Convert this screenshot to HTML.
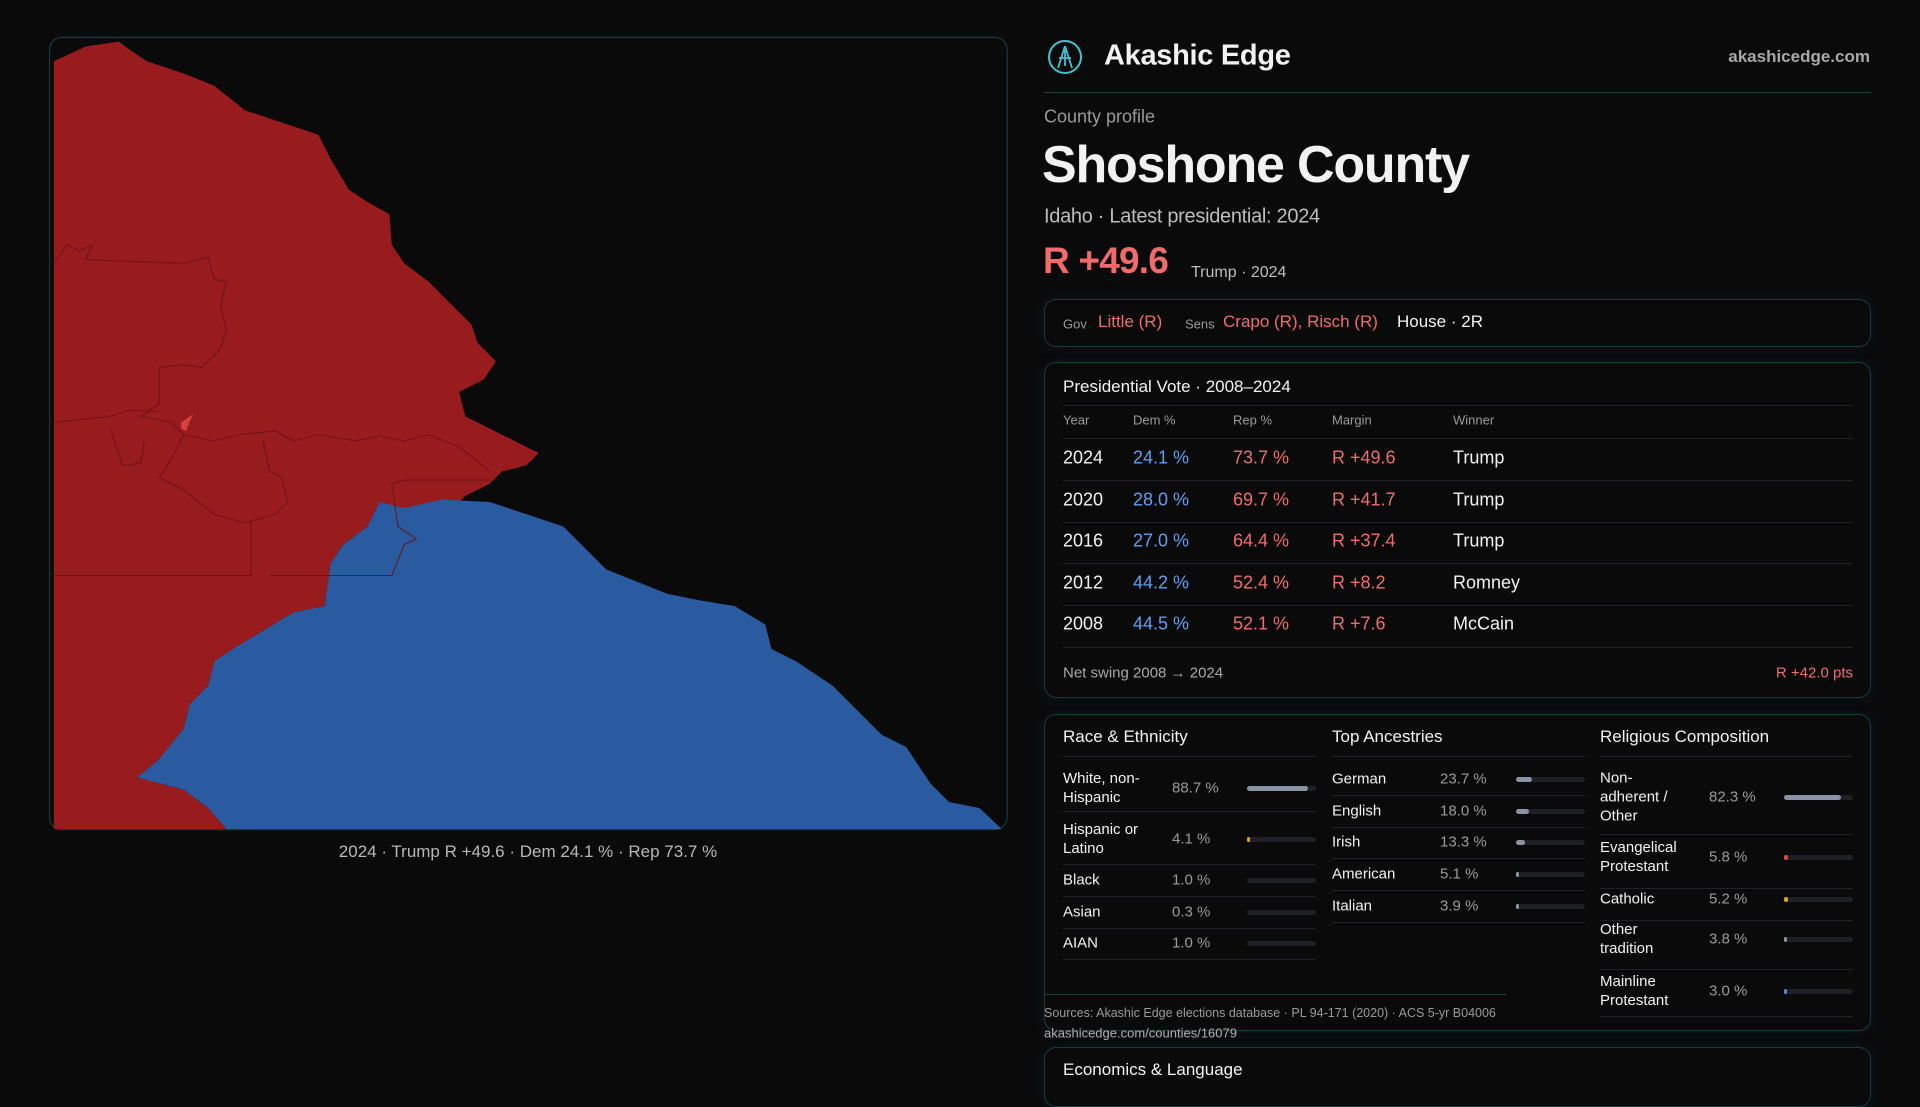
<!DOCTYPE html>
<html><head><meta charset="utf-8"><style>
*{margin:0;padding:0;box-sizing:border-box}
body{width:1920px;height:1080px;background:#0a0a0b;overflow:hidden;position:relative;font-family:"Liberation Sans",sans-serif;color:#f2f2f2}
.a{position:absolute;white-space:nowrap}
.box{position:absolute;border:1px solid #173a3f;border-radius:12px;box-shadow:0 0 14px rgba(30,90,100,0.18)}
.g{color:#9a9a9a}.r{color:#f26b6b}.b{color:#5aa0f5}
.sep{position:absolute;height:1px;background:#1f2226}
.bar{position:absolute;height:5px;border-radius:3px;background:#1e2025}
.bar i{position:absolute;left:0;top:0;height:5px;border-radius:3px;background:#8a93a5}
.t{font-size:18px;transform:translateY(-50%)}
.s{font-size:15px;transform:translateY(-50%);line-height:19px}
</style></head><body>
<svg class="a" style="left:0;top:0" width="1920" height="1080" viewBox="0 0 1568 882">
<rect x="40.5" y="30.5" width="782" height="647" rx="10" fill="#0a0a0b" stroke="#173a3f"/>
<path fill="#981b1e" d="M44,50 L70,38 L97,34 L105,40 L120,50 L150,60 L175,70 L200,90 L230,100 L260,110 L270,130 L285,155 L300,165 L318,175 L320,200 L330,215 L350,230 L365,245 L385,265 L390,280 L405,295 L395,310 L375,320 L380,340 L410,355 L430,365 L440,370 L430,380 L410,385 L400,395 L380,405 L370,415 L345,420 L310,410 L300,430 L280,445 L270,460 L265,495 L240,500 L215,515 L190,530 L175,540 L170,560 L155,575 L150,595 L130,620 L112,635 L150,645 L170,660 L185,677 L44,677 Z"/>
<path fill="#2a5a9f" d="M310,410 L330,415 L360,408 L400,410 L430,420 L460,430 L480,450 L495,465 L520,475 L545,485 L570,490 L600,495 L625,510 L630,530 L650,540 L680,560 L700,580 L720,600 L740,610 L760,640 L775,655 L800,660 L818,677 L185,677 L170,660 L150,645 L112,635 L130,620 L150,595 L155,575 L170,560 L175,540 L190,530 L215,515 L240,500 L265,495 L270,460 L280,445 L300,430 Z"/>
<g fill="none" stroke="#6e1316" stroke-width="0.8">
<path d="M44,215 L55,200 L65,205 L75,200 L70,212 L90,213 L150,215 L170,210 L175,228 L185,230 L180,250 L185,270 L180,285 L165,300 L150,298 L130,300 L130,330 L115,340 L140,345 L150,355 L175,360 L195,355 L225,352 L240,360 L260,355 L290,360 L310,356 L330,360 L350,355 L375,365 L400,385"/>
<path d="M44,345 L90,340 L105,335 L130,336"/>
<path d="M150,355 L140,375 L130,390 L150,400 L175,420 L200,427 L225,420 L235,410 L230,390 L220,385 L215,360"/>
<path d="M205,425 L205,470 L44,470"/>
<path d="M220,470 L320,470 L330,445 L340,440 L325,430 L320,395 L330,392 L400,392"/>
<path d="M90,350 L95,365 L100,380 L115,378 L118,360"/>
</g>
<path fill="#d94040" d="M148,345 L158,338 L155,344 L152,352 L148,350 Z"/>
</svg>
<div class="a g" style="left:528px;top:852px;transform:translate(-50%,-50%);font-size:17px;color:#b8b8b8">2024 · Trump R +49.6 · Dem 24.1 % · Rep 73.7 %</div>

<svg class="a" style="left:1046px;top:38px" width="38" height="38" viewBox="0 0 38 38"><circle cx="19" cy="19" r="16" fill="none" stroke="#3fc3d3" stroke-width="2"/><path d="M19,8 L12,30 M19,8 L26,30 M13,20 L25,20 M19,12 L19,28" stroke="#3fc3d3" stroke-width="1.8" fill="none"/></svg>
<div class="a" style="left:1104px;top:56px;transform:translateY(-50%);font-size:29px;font-weight:bold;letter-spacing:-0.3px">Akashic Edge</div>
<div class="a" style="right:50px;top:57px;transform:translateY(-50%);font-size:17px;font-weight:bold;color:#a8a8a8">akashicedge.com</div>
<div class="a" style="left:1044px;top:92px;width:827px;height:1px;background:#1e3e42"></div>
<div class="a g" style="left:1044px;top:117px;transform:translateY(-50%);font-size:18px">County profile</div>
<div class="a" style="left:1042px;top:165px;transform:translateY(-50%);font-size:52px;font-weight:bold;letter-spacing:-1.2px">Shoshone County</div>
<div class="a" style="left:1044px;top:217px;transform:translateY(-50%);font-size:20px;color:#bdbdbd;letter-spacing:-0.3px">Idaho · Latest presidential: 2024</div>
<div class="a r" style="left:1043px;top:261px;transform:translateY(-50%);font-size:37px;font-weight:bold;letter-spacing:-0.8px">R +49.6</div>
<div class="a" style="left:1191px;top:273px;transform:translateY(-50%);font-size:16px;color:#bdbdbd">Trump · 2024</div>

<div class="box" style="left:1044px;top:299px;width:827px;height:48px"></div>
<div class="a g" style="left:1063px;top:324px;transform:translateY(-50%);font-size:13px">Gov</div>
<div class="a r" style="left:1098px;top:322px;transform:translateY(-50%);font-size:17px">Little (R)</div>
<div class="a g" style="left:1185px;top:324px;transform:translateY(-50%);font-size:13px">Sens</div>
<div class="a r" style="left:1223px;top:322px;transform:translateY(-50%);font-size:17px">Crapo (R), Risch (R)</div>
<div class="a" style="left:1397px;top:322px;transform:translateY(-50%);font-size:17px">House · 2R</div>

<div class="box" style="left:1044px;top:362px;width:827px;height:336px"></div>
<div class="a" style="left:1063px;top:387px;transform:translateY(-50%);font-size:17px">Presidential Vote · 2008–2024</div>
<div class="sep" style="left:1063px;top:405px;width:790px"></div>
<div class="a g" style="left:1063px;top:420px;transform:translateY(-50%);font-size:13px">Year</div>
<div class="a g" style="left:1133px;top:420px;transform:translateY(-50%);font-size:13px">Dem %</div>
<div class="a g" style="left:1233px;top:420px;transform:translateY(-50%);font-size:13px">Rep %</div>
<div class="a g" style="left:1332px;top:420px;transform:translateY(-50%);font-size:13px">Margin</div>
<div class="a g" style="left:1453px;top:420px;transform:translateY(-50%);font-size:13px">Winner</div>
<div class="sep" style="left:1063px;top:438px;width:790px"></div>
<div class="a t" style="left:1063px;top:458px">2024</div><div class="a t b" style="left:1133px;top:458px">24.1 %</div><div class="a t r" style="left:1233px;top:458px">73.7 %</div><div class="a t r" style="left:1332px;top:458px">R +49.6</div><div class="a t" style="left:1453px;top:458px">Trump</div>
<div class="sep" style="left:1063px;top:480px;width:790px"></div>
<div class="a t" style="left:1063px;top:500px">2020</div><div class="a t b" style="left:1133px;top:500px">28.0 %</div><div class="a t r" style="left:1233px;top:500px">69.7 %</div><div class="a t r" style="left:1332px;top:500px">R +41.7</div><div class="a t" style="left:1453px;top:500px">Trump</div>
<div class="sep" style="left:1063px;top:522px;width:790px"></div>
<div class="a t" style="left:1063px;top:541px">2016</div><div class="a t b" style="left:1133px;top:541px">27.0 %</div><div class="a t r" style="left:1233px;top:541px">64.4 %</div><div class="a t r" style="left:1332px;top:541px">R +37.4</div><div class="a t" style="left:1453px;top:541px">Trump</div>
<div class="sep" style="left:1063px;top:563px;width:790px"></div>
<div class="a t" style="left:1063px;top:583px">2012</div><div class="a t b" style="left:1133px;top:583px">44.2 %</div><div class="a t r" style="left:1233px;top:583px">52.4 %</div><div class="a t r" style="left:1332px;top:583px">R +8.2</div><div class="a t" style="left:1453px;top:583px">Romney</div>
<div class="sep" style="left:1063px;top:605px;width:790px"></div>
<div class="a t" style="left:1063px;top:624px">2008</div><div class="a t b" style="left:1133px;top:624px">44.5 %</div><div class="a t r" style="left:1233px;top:624px">52.1 %</div><div class="a t r" style="left:1332px;top:624px">R +7.6</div><div class="a t" style="left:1453px;top:624px">McCain</div>
<div class="sep" style="left:1063px;top:647px;width:790px"></div>
<div class="a" style="left:1063px;top:673px;transform:translateY(-50%);font-size:15px;color:#a8a8a8">Net swing 2008 → 2024</div>
<div class="a r" style="right:67px;top:673px;transform:translateY(-50%);font-size:15px">R +42.0 pts</div>

<div class="box" style="left:1044px;top:714px;width:827px;height:317px"></div>
<div class="a" style="left:1063px;top:737px;transform:translateY(-50%);font-size:17px">Race &amp; Ethnicity</div>
<div class="a" style="left:1332px;top:737px;transform:translateY(-50%);font-size:17px">Top Ancestries</div>
<div class="a" style="left:1600px;top:737px;transform:translateY(-50%);font-size:17px">Religious Composition</div>
<div class="sep" style="left:1063px;top:756px;width:253px"></div>
<div class="sep" style="left:1332px;top:756px;width:253px"></div>
<div class="sep" style="left:1600px;top:756px;width:253px"></div>

<div class="a s" style="left:1063px;top:788px">White, non-<br>Hispanic</div><div class="a s g" style="left:1172px;top:788px">88.7 %</div><div class="bar" style="left:1247px;top:786px;width:69px"><i style="width:61px"></i></div>
<div class="sep" style="left:1063px;top:811px;width:253px"></div>
<div class="a s" style="left:1063px;top:839px">Hispanic or<br>Latino</div><div class="a s g" style="left:1172px;top:839px">4.1 %</div><div class="bar" style="left:1247px;top:837px;width:69px"><i style="width:3px;background:#e0a020"></i></div>
<div class="sep" style="left:1063px;top:864px;width:253px"></div>
<div class="a s" style="left:1063px;top:880px">Black</div><div class="a s g" style="left:1172px;top:880px">1.0 %</div><div class="bar" style="left:1247px;top:878px;width:69px"></div>
<div class="sep" style="left:1063px;top:896px;width:253px"></div>
<div class="a s" style="left:1063px;top:912px">Asian</div><div class="a s g" style="left:1172px;top:912px">0.3 %</div><div class="bar" style="left:1247px;top:910px;width:69px"></div>
<div class="sep" style="left:1063px;top:928px;width:253px"></div>
<div class="a s" style="left:1063px;top:943px">AIAN</div><div class="a s g" style="left:1172px;top:943px">1.0 %</div><div class="bar" style="left:1247px;top:941px;width:69px"></div>
<div class="sep" style="left:1063px;top:959px;width:253px"></div>

<div class="a s" style="left:1332px;top:779px">German</div><div class="a s g" style="left:1440px;top:779px">23.7 %</div><div class="bar" style="left:1516px;top:777px;width:69px"><i style="width:16px"></i></div>
<div class="sep" style="left:1332px;top:795px;width:253px"></div>
<div class="a s" style="left:1332px;top:811px">English</div><div class="a s g" style="left:1440px;top:811px">18.0 %</div><div class="bar" style="left:1516px;top:809px;width:69px"><i style="width:13px"></i></div>
<div class="sep" style="left:1332px;top:827px;width:253px"></div>
<div class="a s" style="left:1332px;top:842px">Irish</div><div class="a s g" style="left:1440px;top:842px">13.3 %</div><div class="bar" style="left:1516px;top:840px;width:69px"><i style="width:9px"></i></div>
<div class="sep" style="left:1332px;top:858px;width:253px"></div>
<div class="a s" style="left:1332px;top:874px">American</div><div class="a s g" style="left:1440px;top:874px">5.1 %</div><div class="bar" style="left:1516px;top:872px;width:69px"><i style="width:3px"></i></div>
<div class="sep" style="left:1332px;top:890px;width:253px"></div>
<div class="a s" style="left:1332px;top:906px">Italian</div><div class="a s g" style="left:1440px;top:906px">3.9 %</div><div class="bar" style="left:1516px;top:904px;width:69px"><i style="width:3px"></i></div>
<div class="sep" style="left:1332px;top:922px;width:253px"></div>

<div class="a s" style="left:1600px;top:797px">Non-<br>adherent /<br>Other</div><div class="a s g" style="left:1709px;top:797px">82.3 %</div><div class="bar" style="left:1784px;top:795px;width:69px"><i style="width:57px"></i></div>
<div class="sep" style="left:1600px;top:834px;width:253px"></div>
<div class="a s" style="left:1600px;top:857px">Evangelical<br>Protestant</div><div class="a s g" style="left:1709px;top:857px">5.8 %</div><div class="bar" style="left:1784px;top:855px;width:69px"><i style="width:4px;background:#e04848"></i></div>
<div class="sep" style="left:1600px;top:888px;width:253px"></div>
<div class="a s" style="left:1600px;top:899px">Catholic</div><div class="a s g" style="left:1709px;top:899px">5.2 %</div><div class="bar" style="left:1784px;top:897px;width:69px"><i style="width:4px;background:#e0a020"></i></div>
<div class="sep" style="left:1600px;top:920px;width:253px"></div>
<div class="a s" style="left:1600px;top:939px">Other<br>tradition</div><div class="a s g" style="left:1709px;top:939px">3.8 %</div><div class="bar" style="left:1784px;top:937px;width:69px"><i style="width:3px"></i></div>
<div class="sep" style="left:1600px;top:969px;width:253px"></div>
<div class="a s" style="left:1600px;top:991px">Mainline<br>Protestant</div><div class="a s g" style="left:1709px;top:991px">3.0 %</div><div class="bar" style="left:1784px;top:989px;width:69px"><i style="width:3px;background:#4a8ae0"></i></div>
<div class="sep" style="left:1600px;top:1016px;width:253px"></div>

<div class="a" style="left:1044px;top:994px;width:462px;height:1px;background:#1e3e42"></div>
<div class="a g" style="left:1044px;top:1013px;transform:translateY(-50%);font-size:12.5px">Sources: Akashic Edge elections database · PL 94-171 (2020) · ACS 5-yr B04006</div>
<div class="a" style="left:1044px;top:1033px;transform:translateY(-50%);font-size:13px;color:#b0b0b0">akashicedge.com/counties/16079</div>

<div class="box" style="left:1044px;top:1047px;width:827px;height:60px"></div>
<div class="a" style="left:1063px;top:1070px;transform:translateY(-50%);font-size:17px">Economics &amp; Language</div>
</body></html>
